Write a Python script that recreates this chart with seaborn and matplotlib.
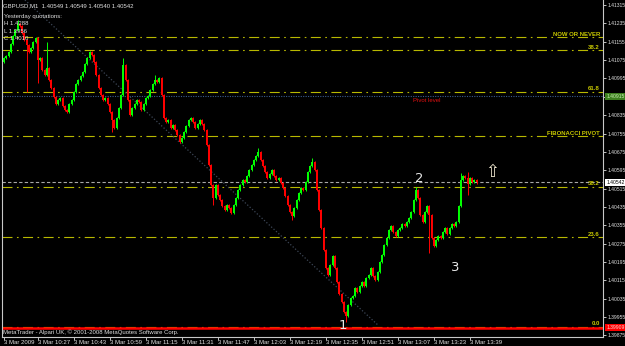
import matplotlib
matplotlib.use("Agg")
import matplotlib.pyplot as plt
import matplotlib.transforms as mtransforms
import seaborn as sns
import numpy as np
import pandas as pd

# ---------------- data (GBPUSD M1, 3 Mar 2009, bars from 10:12) ----------------
first_open = 1.41067
closes = [
    1.41084, 1.41093, 1.41110, 1.41145, 1.41180, 1.41206, 1.41232, 1.41224, 1.41193, 1.41163,
    1.41141, 1.41110, 1.41128, 1.41154, 1.41171, 1.41075, 1.41084, 1.41032, 1.41010, 1.41040,
    1.40988, 1.40953, 1.40914, 1.40884, 1.40901, 1.40910, 1.40875, 1.40857, 1.40849, 1.40884,
    1.40901, 1.40936, 1.40971, 1.40988, 1.41006, 1.41023, 1.41058, 1.41084, 1.41110, 1.41097,
    1.41067, 1.41010, 1.40953, 1.40923, 1.40901, 1.40910, 1.40884, 1.40849, 1.40814, 1.40779,
    1.40822, 1.40866, 1.40923, 1.41054, 1.40988, 1.40901, 1.40836, 1.40866, 1.40884, 1.40901,
    1.40892, 1.40857, 1.40884, 1.40910, 1.40918, 1.40945, 1.40971, 1.40988, 1.40979, 1.40997,
    1.40923, 1.40822, 1.40805, 1.40814, 1.40779, 1.40792, 1.40770, 1.40748, 1.40718, 1.40735,
    1.40761, 1.40788, 1.40814, 1.40822, 1.40805, 1.40779, 1.40796, 1.40814, 1.40796, 1.40770,
    1.40705, 1.40618, 1.40530, 1.40474, 1.40530, 1.40487, 1.40465, 1.40439, 1.40421, 1.40443,
    1.40430, 1.40408, 1.40443, 1.40474, 1.40509, 1.40530, 1.40552, 1.40543, 1.40570, 1.40596,
    1.40618, 1.40639, 1.40657, 1.40674, 1.40639, 1.40613, 1.40587, 1.40561, 1.40578, 1.40596,
    1.40570, 1.40552, 1.40561, 1.40539, 1.40517, 1.40482, 1.40443, 1.40413, 1.40395, 1.40430,
    1.40465, 1.40495, 1.40517, 1.40509, 1.40543, 1.40587, 1.40613, 1.40631, 1.40596, 1.40509,
    1.40421, 1.40343, 1.40247, 1.40169, 1.40138, 1.40182, 1.40221, 1.40169, 1.40107, 1.40055,
    1.40020, 1.39977, 1.39959, 1.40007, 1.40038, 1.40046, 1.40081, 1.40064, 1.40090, 1.40107,
    1.40090, 1.40125, 1.40138, 1.40169, 1.40134, 1.40116, 1.40151, 1.40195, 1.40225, 1.40269,
    1.40299, 1.40334, 1.40352, 1.40325, 1.40308, 1.40334, 1.40343, 1.40360, 1.40352, 1.40369,
    1.40386, 1.40413, 1.40465, 1.40509, 1.40474, 1.40400, 1.40369, 1.40413, 1.40439, 1.40400,
    1.40299, 1.40264, 1.40291, 1.40308, 1.40299, 1.40325, 1.40343, 1.40317, 1.40343, 1.40360,
    1.40352, 1.40369, 1.40439, 1.40552, 1.40570, 1.40561, 1.40535, 1.40561, 1.40543, 1.40552,
    1.40542,
]
# notable wick extremes
wick_high = {6: 1.41250, 19: 1.41154, 53: 1.41084, 67: 1.41010, 113: 1.40692,
             137: 1.40648, 183: 1.40522, 203: 1.40583, 206: 1.40587}
wick_low = {10: 1.40936, 15: 1.40975, 48: 1.40761, 93: 1.40443, 128: 1.40378,
            152: 1.39933, 189: 1.40234, 206: 1.40487}
wick_default = 0.00005

xtick_idx = [0, 15, 31, 47, 63, 79, 95, 111, 127, 143, 159, 175, 191, 207]
xtick_labels = ["3 Mar 2009", "3 Mar 10:27", "3 Mar 10:43", "3 Mar 10:59", "3 Mar 11:15",
                "3 Mar 11:31", "3 Mar 11:47", "3 Mar 12:03", "3 Mar 12:19", "3 Mar 12:35",
                "3 Mar 12:51", "3 Mar 13:07", "3 Mar 13:23", "3 Mar 13:39"]
price_ticks = [1.39875, 1.39955, 1.40035, 1.40115, 1.40195, 1.40275, 1.40355, 1.40435,
               1.40515, 1.40595, 1.40675, 1.40755, 1.40835, 1.40915, 1.40995, 1.41075,
               1.41155, 1.41235, 1.41315]

fib_labels = ["NOW OR NEVER", "38.2", "61.8", "FIBONACCI PIVOT", "38.2", "23.6", "0.0"]
fib_prices = [1.41174, 1.41117, 1.40938, 1.40742, 1.40522, 1.40302, 1.39913]

pivot_price = 1.40918
bid_price = 1.40542
red_level = 1.39909

trend_idx = [9.3, 166.2]
trend_price = [1.41337, 1.39920]

wave_labels = ["1", "2", "3"]
wave_idx = [150.5, 184.5, 200.5]
wave_price = [1.39920, 1.40561, 1.40169]
arrow_idx, arrow_price = 216.9, 1.40587

header = "GBPUSD,M1  1.40549 1.40549 1.40540 1.40542"
yq_lines = ["Yesterday quotations:", "H 1.4288", "L 1.3956", "C 1.4010"]

# ---------------- build frame ----------------
n = len(closes)
opens = [first_open] + closes[:-1]
df = pd.DataFrame({"i": np.arange(n), "open": opens, "close": closes})
df["high"] = [wick_high.get(k, max(o, c) + wick_default) for k, o, c in zip(df.i, df.open, df.close)]
df["low"] = [wick_low.get(k, min(o, c) - wick_default) for k, o, c in zip(df.i, df.open, df.close)]
df["bull"] = df.close >= df.open

# ---------------- figure ----------------
sns.set_theme(style="dark")
plt.rcParams["font.family"] = ["Liberation Sans", "DejaVu Sans"]
W, H = 625, 346
fig = plt.figure(figsize=(W / 100, H / 100), dpi=100, facecolor="black")
ax = fig.add_axes([2 / W, 9 / H, 601 / W, 337 / H])
ax.set_facecolor("black")
ax.grid(False)

ymin, ymax = 1.39868, 1.41337
ax.set_xlim(-0.89, 266.2)
ax.set_ylim(ymin, ymax)

fs = 4.3
fs_r = 3.6
trans_r = mtransforms.blended_transform_factory(ax.transAxes, ax.transData)
# fib / level lines
for lab, p in zip(fib_labels, fib_prices):
    ax.axhline(p, color="#b8b800", lw=0.8, linestyle=(0, (9, 4, 1.5, 4)), zorder=1)
    ax.text(0.995, p + 0.00003, lab, transform=trans_r,
            ha="right", va="bottom", color="#c8c800", fontsize=fs, fontweight="bold", zorder=5)
ax.axhline(pivot_price, color="#3a5a8c", lw=0.8, linestyle=(0, (1, 1.2)), zorder=1)
ax.axhline(bid_price, color="#a8a8a8", lw=0.8, linestyle=(0, (3, 2)), zorder=1)
ax.axhline(red_level, color="#ff0000", lw=1.8, zorder=2)

# trend line
sns.lineplot(x=trend_idx, y=trend_price, ax=ax, color="#3c4656", lw=0.9, zorder=1)
ax.lines[-1].set_linestyle((0, (1, 1.6)))

# candles
colors = np.where(df.bull, "#00ff00", "#ff0000")
ax.vlines(df.i, df.low, df.high, colors=colors, lw=0.7, zorder=3)
bottoms = np.minimum(df.open, df.close)
heights = np.maximum(np.abs(df.close - df.open), 0.00002)
ax.bar(df.i, heights, bottom=bottoms, width=0.78, color=colors, linewidth=0, zorder=4)

# wave labels & arrow
for lab, xi, p in zip(wave_labels, wave_idx, wave_price):
    ax.text(xi, p, lab, color="#e8e8e8", fontsize=9.5, ha="center", va="center",
            family="DejaVu Sans", zorder=6)
ax.text(arrow_idx, arrow_price, "\u21e7", color="#f0e8d0", fontsize=12, ha="center", va="center",
        family="DejaVu Sans", zorder=6)
ax.text(181.8, pivot_price - 0.00008, "Pivot level", color="#e01010", fontsize=fs, ha="left", va="top", zorder=6)

# header texts
ax.text(0.002, 0.982, header, transform=ax.transAxes, color="#e0e0e0", fontsize=fs, ha="left", va="center", zorder=7)
for k, t in enumerate(yq_lines):
    ax.text(0.004, 0.950 - 0.021 * k, t, transform=ax.transAxes, color="#e0e0e0", fontsize=fs,
            ha="left", va="center", zorder=7)
ax.text(0.002, 0.015, "MetaTrader - Alpari UK, \u00a9 2001-2008 MetaQuotes Software Corp.",
        transform=ax.transAxes, color="#e0e0e0", fontsize=fs, ha="left", va="center", zorder=7)

# axes styling
ax.spines["top"].set_visible(False)
for s in ["left", "right", "bottom"]:
    ax.spines[s].set_visible(True)
    ax.spines[s].set_color("#c8c8c8")
    ax.spines[s].set_linewidth(0.8)
ax.yaxis.tick_right()
ax.set_yticks(price_ticks)
ax.set_yticklabels([f"{p:.5f}" for p in price_ticks])
ax.tick_params(axis="y", colors="#e0e0e0", labelsize=fs_r, length=2, width=0.6, pad=1.0, right=True, left=False)
ax.set_xticks(xtick_idx)
ax.set_xticklabels(xtick_labels, ha="left")
ax.tick_params(axis="x", colors="#e0e0e0", labelsize=fs, length=2, width=0.6, pad=0.5, bottom=True)
for lbl in ax.get_xticklabels():
    lbl.set_ha("left")

# right-side price boxes
box_specs = [(pivot_price, "1.40915", "#3d7f1f", "#c8f0b0"),
             (bid_price, "1.40542", "#ffffff", "#000000"),
             (red_level, "1.39909", "#ff0000", "#ffd0d0")]
for p, t, bg, fg in box_specs:
    ax.text(1.0055, p, t, transform=trans_r, ha="left", va="center", fontsize=fs_r, color=fg,
            bbox=dict(boxstyle="square,pad=0.2", fc=bg, ec="none"), clip_on=False, zorder=8)

fig.savefig("out.png", dpi=100, facecolor="black")
